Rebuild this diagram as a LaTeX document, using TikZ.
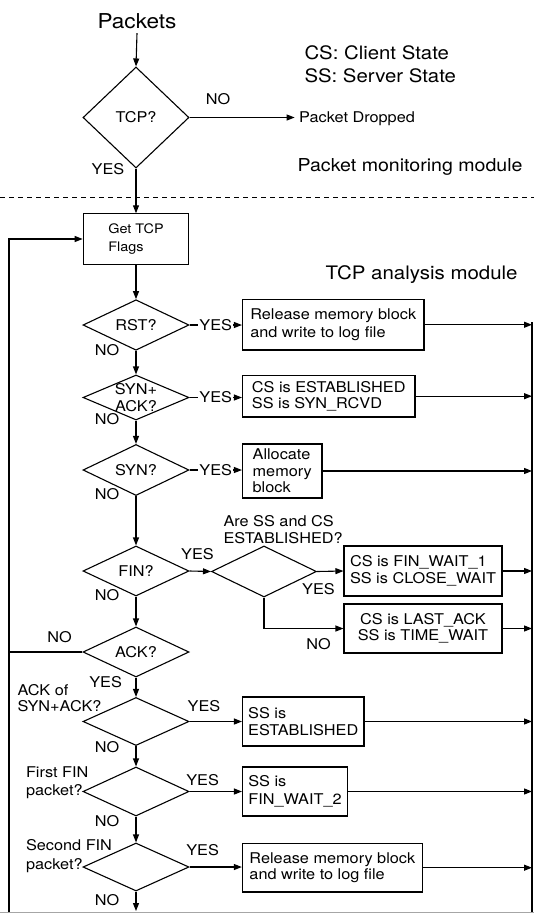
\documentclass[tikz,border=0pt]{standalone}
\usepackage{fontspec}
\setmainfont{TeX Gyre Heros}[FakeStretch=1.1]
\usetikzlibrary{shapes.geometric,arrows.meta}

\begin{document}
\begin{tikzpicture}[x=1pt,y=-1pt,line width=1.1pt,
  >={Triangle[length=8pt,width=6pt]},
  txt/.style={font=\fontsize{14.8}{17.5}\selectfont, inner sep=0pt},
  decision/.style={diamond,draw,inner sep=0pt,minimum width=106pt},
  procbox/.style={rectangle,draw,inner sep=0pt,align=left,font=\fontsize{14.8}{17.5}\selectfont},
  flow/.style={->},
  onwire/.style={txt,fill=white,inner sep=1pt}
]
\useasboundingbox (0,0) rectangle (534,913);

% ---------- packet monitoring module ----------
\node[txt, font=\fontsize{20.5}{24}\selectfont, inner sep=4pt] (packets) at (137,21) {Packets};
\node[txt, anchor=west, align=left, font=\fontsize{18.5}{22.6}\selectfont] (legend) at (304,64.3) {CS: Client State\\SS: Server State};
\node[decision, minimum height=101pt, label={[txt]center:TCP?}] (tcp) at (136,117.5) {};
\node[txt, anchor=west, inner sep=4pt] (dropped) at (294.6,118.5) {Packet Dropped};
\node[txt] (tcpno) at (218,99.5) {NO};
\node[txt] (tcpyes) at (108,169) {YES};
\node[txt, anchor=west, font=\fontsize{17.8}{20}\selectfont] (pmm) at (297,167) {Packet monitoring module};

\coordinate (dl) at (0,197);
\coordinate (dr) at (534,197);
\draw[dash pattern=on 5pt off 4pt, line width=0.8pt] (dl) -- (dr);

% ---------- TCP analysis module ----------
\node[procbox, minimum width=105.6pt, minimum height=50.4pt, font=\fontsize{13.1}{18}\selectfont] (flags) at (136,239) {Get TCP\\Flags};
\node[txt, anchor=west, font=\fontsize{18.6}{22}\selectfont] (tam) at (325,275) {TCP analysis module};

\node[decision, minimum height=50.5pt, label={[txt]center:RST?}] (rst) at (136,325) {};
\node[decision, minimum height=45pt, label={[txt,align=center,font=\fontsize{14.8}{16.5}\selectfont]center:SYN+\\ACK?}] (synack) at (136,397.5) {};
\node[decision, minimum height=51pt, label={[txt]center:SYN?}] (syn) at (136,470) {};
\node[decision, minimum height=50pt, label={[txt]center:FIN?}] (fin) at (136,571) {};
\node[decision, minimum width=105pt, minimum height=51pt] (est) at (264,571.5) {};
\node[decision, minimum height=50pt, label={[txt]center:ACK?}] (ack) at (136,652) {};
\node[decision, minimum height=48pt] (ackof) at (136,721.5) {};
\node[decision, minimum height=49pt] (first) at (136,791.5) {};
\node[decision, minimum height=48pt] (second) at (136,867) {};

\node[procbox, minimum width=181.5pt, minimum height=50.5pt] (rel1) at (333.25,324.75) {Release memory block\\and write to log file};
\node[procbox, minimum width=172.5pt, minimum height=41.6pt, font=\fontsize{14.8}{16}\selectfont] (synrcvd) at (328.75,396.2) {CS is ESTABLISHED\\SS is SYN\_RCVD};
\node[procbox, minimum width=79.5pt, minimum height=54pt, font=\fontsize{14.8}{16.6}\selectfont] (alloc) at (282.25,471) {Allocate\\memory\\block};
\node[procbox, minimum width=158pt, minimum height=50pt, font=\fontsize{14.8}{16.5}\selectfont] (fw1) at (423,571) {CS is FIN\_WAIT\_1\\SS is CLOSE\_WAIT};
\node[procbox, align=center, minimum width=158pt, minimum height=49pt, font=\fontsize{14.8}{16}\selectfont] (lastack) at (423,628.5) {CS is LAST\_ACK\\SS is TIME\_WAIT};
\node[procbox, minimum width=121.5pt, minimum height=49pt] (ssest) at (303.25,721.5) {SS is\\ESTABLISHED};
\node[procbox, minimum width=105pt, minimum height=49pt, font=\fontsize{14.8}{18}\selectfont] (fw2) at (295,791.5) {SS is\\FIN\_WAIT\_2};
\node[procbox, minimum width=180pt, minimum height=48.6pt, font=\fontsize{14.8}{15.5}\selectfont] (rel2) at (332.4,867.7) {Release memory block\\and write to log file};

% question texts beside the diamonds
\node[txt, anchor=west, align=left, font=\fontsize{14.8}{17}\selectfont] (estq) at (223,529.5) {Are SS and CS\\ESTABLISHED?};
\node[txt, anchor=west, align=left, font=\fontsize{14.8}{15.6}\selectfont] (ackofq) at (17,698) {ACK of\\SYN+ACK?};
\node[txt, anchor=west, align=left, font=\fontsize{14.8}{18.4}\selectfont] (firstq) at (25.5,783) {First FIN\\packet?};
\node[txt, anchor=west, align=left, font=\fontsize{14.8}{18.6}\selectfont] (secondq) at (25.5,856.3) {Second FIN\\packet?};

% branch labels
\node[txt] (rstno) at (107,350) {NO};
\node[txt] (synackno) at (107,419) {NO};
\node[txt] (synno) at (107,493.7) {NO};
\node[txt] (finyes) at (197.5,554) {YES};
\node[txt] (finno) at (107,595) {NO};
\node[txt] (estyes) at (318.5,589) {YES};
\node[txt] (estno) at (318.5,644) {NO};
\node[txt] (ackno) at (59.6,637.5) {NO};
\node[txt] (ackyes) at (105.6,682) {YES};
\node[txt] (ackofyes) at (204,706) {YES};
\node[txt] (ackofno) at (107,747) {NO};
\node[txt] (firstyes) at (202.6,780) {YES};
\node[txt] (firstno) at (107,820.6) {NO};
\node[txt] (secondyes) at (202.6,850) {YES};
\node[txt] (secondno) at (107,899.6) {NO};

% bus coordinates
\coordinate (rbus) at (532,322);
\coordinate (rbot) at (532,913);
\coordinate (lbot) at (9,913);
\coordinate (bottom) at (136,911);
\coordinate (edgeL) at (0,912.4);
\coordinate (edgeR) at (534,912.4);

% ---------- connectors ----------
\draw[flow] (packets.south) -- (tcp.north);
\draw[flow] (tcp.east) -- (tcp.east -| dropped.west);
\draw[flow] (tcp.south) -- (flags.north);
\draw[flow] (flags.south) -- (rst.north);
\draw[flow] (rst.east) -- node[onwire]{YES} (rst.east -| rel1.west);
\draw[flow] (rst.south) -- (synack.north);
\draw[flow] (synack.east) -- node[onwire]{YES} (synack.east -| synrcvd.west);
\draw[flow] (synack.south) -- (syn.north);
\draw[flow] (syn.east) -- node[onwire]{YES} (syn.east -| alloc.west);
\draw[flow] (syn.south) -- (fin.north);
\draw[flow] (fin.east) -- (est.west);
\draw[flow] (est.east) -- (fw1.west);
\draw[flow] (est.south) |- (lastack.west);
\draw[flow] (fin.south) -- (ack.north);
\draw (ack.west) -- (ack.west -| lbot);
\draw[flow] (lbot) |- (flags.west);
\draw[flow] (ack.south) -- (ackof.north);
\draw[flow] (ackof.east) -- (ackof.east -| ssest.west);
\draw[flow] (ackof.south) -- (first.north);
\draw[flow] (first.east) -- (first.east -| fw2.west);
\draw[flow] (first.south) -- (second.north);
\draw[flow] (second.east) -- (second.east -| rel2.west);
\draw[flow] (second.south) -- (bottom);

\foreach \b in {rel1,synrcvd,alloc,fw1,lastack,ssest,fw2,rel2}
  \draw[flow] (\b.east) -- (\b.east -| rbus);
\draw (rbus) -- (rbot);
\draw[black!35, line width=1pt] (edgeL) -- (edgeR);
\end{tikzpicture}
\end{document}
